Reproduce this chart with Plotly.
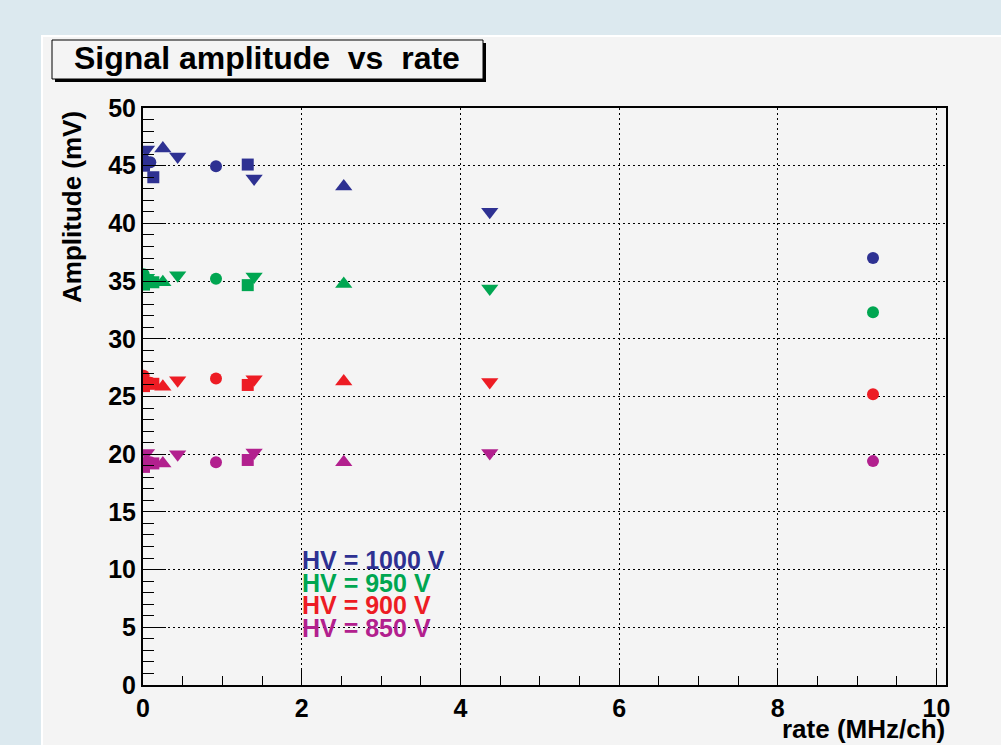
import plotly.graph_objects as go

# ---------------- data ----------------
rate_circle = [0.009, 0.092, 0.92, 9.2]
rate_square = [0.013, 0.13, 1.32]
rate_up = [0.025, 0.25, 2.53]
rate_down = [0.044, 0.437, 1.40, 4.37]

# amplitudes (mV), ordered: circles, squares, up-triangles, down-triangles
amp_1000V = [45.3, 45.3, 44.95, 37.0,  45.0, 44.0, 45.1,  45.6, 46.5, 43.2,  46.4, 45.8, 43.9, 41.0]
amp_950V = [35.6, 35.0, 35.2, 32.3,  34.7, 34.9, 34.65,  35.0, 34.9, 34.75,  35.3, 35.5, 35.4, 34.35]
amp_900V = [26.8, 26.2, 26.55, 25.2,  25.9, 26.1, 26.0,  26.3, 25.85, 26.3,  26.2, 26.4, 26.5, 26.25]
amp_850V = [19.0, 19.3, 19.3, 19.4,  18.9, 19.2, 19.5,  19.3, 19.2, 19.3,  20.1, 20.0, 20.15, 20.1]

hv_labels = ["HV = 1000 V", "HV = 950 V", "HV = 900 V", "HV = 850 V"]
x_ticks = [0, 2, 4, 6, 8, 10]
y_ticks = [0, 5, 10, 15, 20, 25, 30, 35, 40, 45, 50]

title_text = "Signal amplitude  vs  rate"
x_title = "rate (MHz/ch)"
y_title = "Amplitude (mV)"

# ---------------- styling ----------------
colors = ["#2e3192", "#00a651", "#ed1c24", "#b2208e"]
FONT = "Liberation Sans, Arial, Helvetica, sans-serif"
CANVAS = "#f4f4f4"
PAGE = "#dce9ef"

W, H = 1001, 745
L, R, T, B = 143, 55, 108, 60
PW, PH = W - L - R, H - T - B


def xp(px):
    return (px - L) / PW


def yp(py):
    return (H - B - py) / PH


groups = [("circle", rate_circle, 12), ("square", rate_square, 12),
          ("triangle-up", rate_up, 15), ("triangle-down", rate_down, 15)]

fig = go.Figure()
for amps, col, lab in zip([amp_1000V, amp_950V, amp_900V, amp_850V], colors, hv_labels):
    i = 0
    for sym, rates, size in groups:
        n = len(rates)
        fig.add_trace(go.Scatter(
            x=rates, y=amps[i:i + n], mode="markers", name=lab, showlegend=False,
            marker=dict(symbol=sym, size=size, color=col, line=dict(width=0)),
        ))
        i += n

axis_common = dict(
    showline=True, linecolor="black", linewidth=2, mirror=True,
    ticks="inside", tickcolor="black", tickwidth=1,
    showgrid=True, gridcolor="black", gridwidth=1, griddash="2px,3px",
    zeroline=False,
    tickfont=dict(family=FONT, size=25, color="black", weight="bold"),
)

fig.update_xaxes(range=[0, 10.12], tickvals=x_ticks, ticklen=17,
                 minor=dict(dtick=0.5, ticklen=9, tickcolor="black", tickwidth=1, showgrid=False, ticks="inside"),
                 **axis_common)
fig.update_yaxes(range=[0, 50], tickvals=y_ticks, ticklen=23,
                 minor=dict(dtick=1, ticklen=11, tickcolor="black", tickwidth=1, showgrid=False, ticks="inside"),
                 **axis_common)

shapes = [
    # canvas
    dict(type="rect", xref="paper", yref="paper", x0=xp(42), x1=xp(1003), y0=yp(747), y1=yp(36),
         fillcolor=CANVAS, line=dict(color="white", width=2), layer="below"),
    # title box shadow
    dict(type="rect", xref="paper", yref="paper", x0=xp(55), x1=xp(486), y0=yp(82), y1=yp(43),
         fillcolor="black", line=dict(width=0)),
    # title box
    dict(type="rect", xref="paper", yref="paper", x0=xp(52), x1=xp(483), y0=yp(79), y1=yp(40),
         fillcolor=CANVAS, line=dict(color="black", width=1)),
]

annotations = [
    dict(text=title_text, xref="paper", yref="paper", x=xp(267), y=yp(58), xanchor="center", yanchor="middle",
         showarrow=False, font=dict(family=FONT, size=32, color="black", weight="bold")),
    dict(text=y_title, xref="paper", yref="paper", x=xp(72), y=yp(207), xanchor="center", yanchor="middle",
         textangle=-90, showarrow=False, font=dict(family=FONT, size=26, color="black", weight="bold")),
    dict(text=x_title, xref="paper", yref="paper", x=xp(947), y=yp(729), xanchor="right", yanchor="middle",
         showarrow=False, font=dict(family=FONT, size=26, color="black", weight="bold")),
]
for k, (lab, col) in enumerate(zip(hv_labels, colors)):
    annotations.append(dict(text=lab, xref="paper", yref="paper", x=xp(300), y=yp(560 + 22.7 * k),
                            xanchor="left", yanchor="middle", showarrow=False,
                            font=dict(family=FONT, size=25, color=col, weight="bold")))

fig.update_layout(
    width=W, height=H, margin=dict(l=L, r=R, t=T, b=B, pad=0),
    paper_bgcolor=PAGE, plot_bgcolor=CANVAS,
    shapes=shapes, annotations=annotations, showlegend=False,
)

fig.write_html("out.html", config={"displayModeBar": False},
               post_script="document.body.style.margin='0';")
